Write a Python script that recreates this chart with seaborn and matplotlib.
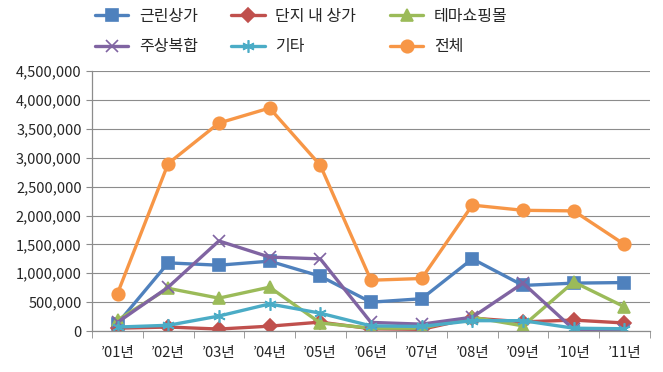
import numpy as np
import pandas as pd
import matplotlib
matplotlib.use('Agg')
import matplotlib.pyplot as plt
import seaborn as sns
from matplotlib.ticker import FuncFormatter, FixedLocator

# Data
years = ['’01년', '’02년', '’03년', '’04년', '’05년', '’06년', '’07년', '’08년', '’09년', '’10년', '’11년']
neighborhood = [130000, 1180000, 1140000, 1210000, 950000, 500000, 560000, 1250000, 790000, 830000, 840000]
complex_shops = [50000, 70000, 35000, 85000, 155000, 40000, 30000, 225000, 160000, 190000, 140000]
theme_mall = [190000, 740000, 570000, 760000, 140000, 50000, 50000, 240000, 90000, 850000, 420000]
mixed_use = [150000, 760000, 1560000, 1280000, 1250000, 150000, 120000, 240000, 830000, 30000, 20000]
others = [70000, 100000, 260000, 470000, 310000, 90000, 80000, 180000, 180000, 50000, 40000]
total = [650000, 2900000, 3600000, 3860000, 2870000, 880000, 910000, 2180000, 2090000, 2080000, 1500000]

series = [
    ('근린상가', neighborhood, '#4F81BD', 's'),
    ('단지 내 상가', complex_shops, '#C0504D', 'D'),
    ('테마쇼핑몰', theme_mall, '#9BBB59', '^'),
    ('주상복합', mixed_use, '#8064A2', 'x'),
    ('기타', others, '#4BACC6', (6, 2, 0)),
    ('전체', total, '#F79646', 'o'),
]

sns.set_style('white')
plt.rcParams['font.family'] = ['Noto Sans CJK KR', 'DejaVu Sans']

fig = plt.figure(figsize=(6.63, 3.72), dpi=100)
ax = fig.add_axes([0.139, 0.110, 0.841, 0.699])

x = np.arange(len(years))
for name, vals, color, marker in series:
    df = pd.DataFrame({'x': x, 'y': vals})
    size = 7 if marker == 'D' else 9
    sns.lineplot(data=df, x='x', y='y', ax=ax, color=color, marker=marker,
                 markersize=size, linewidth=2.4, markeredgecolor=color,
                 markeredgewidth=1.2, label=name)

ax.set_xlim(-0.5, len(years) - 0.5)
ax.set_ylim(0, 4500000)
ax.set_yticks(np.arange(0, 4500001, 500000))
ax.yaxis.set_major_formatter(FuncFormatter(lambda v, p: f'{int(v):,}'))
ax.yaxis.grid(True, color='#8c8c8c', linewidth=0.8)
ax.set_axisbelow(True)

# category labels centered, tick marks at boundaries
ax.set_xticks(x)
ax.set_xticklabels(years)
ax.xaxis.set_minor_locator(FixedLocator(np.arange(-0.5, len(years), 1.0)))
ax.tick_params(axis='x', which='major', length=0, labelsize=10.5, pad=11)
ax.tick_params(axis='x', which='minor', length=5, color='#8c8c8c', direction='out', bottom=True)
ax.tick_params(axis='y', length=4, color='#8c8c8c', direction='out', labelsize=10.5, left=True)

for side in ['top', 'right']:
    ax.spines[side].set_visible(False)
for side in ['left', 'bottom']:
    ax.spines[side].set_color('#8c8c8c')
    ax.spines[side].set_linewidth(0.9)
ax.set_xlabel('')
ax.set_ylabel('')

# row-wise legend order (matplotlib fills columns first)
handles, labels = ax.get_legend_handles_labels()
order = [0, 3, 1, 4, 2, 5]
ax.legend([handles[i] for i in order], [labels[i] for i in order],
          loc='lower left', bbox_to_anchor=(-0.021, 1.005), ncol=3, frameon=False,
          fontsize=11.5, handlelength=2.1, handletextpad=0.65,
          columnspacing=2.1, labelspacing=0.85)

fig.savefig('out.png', dpi=100)
